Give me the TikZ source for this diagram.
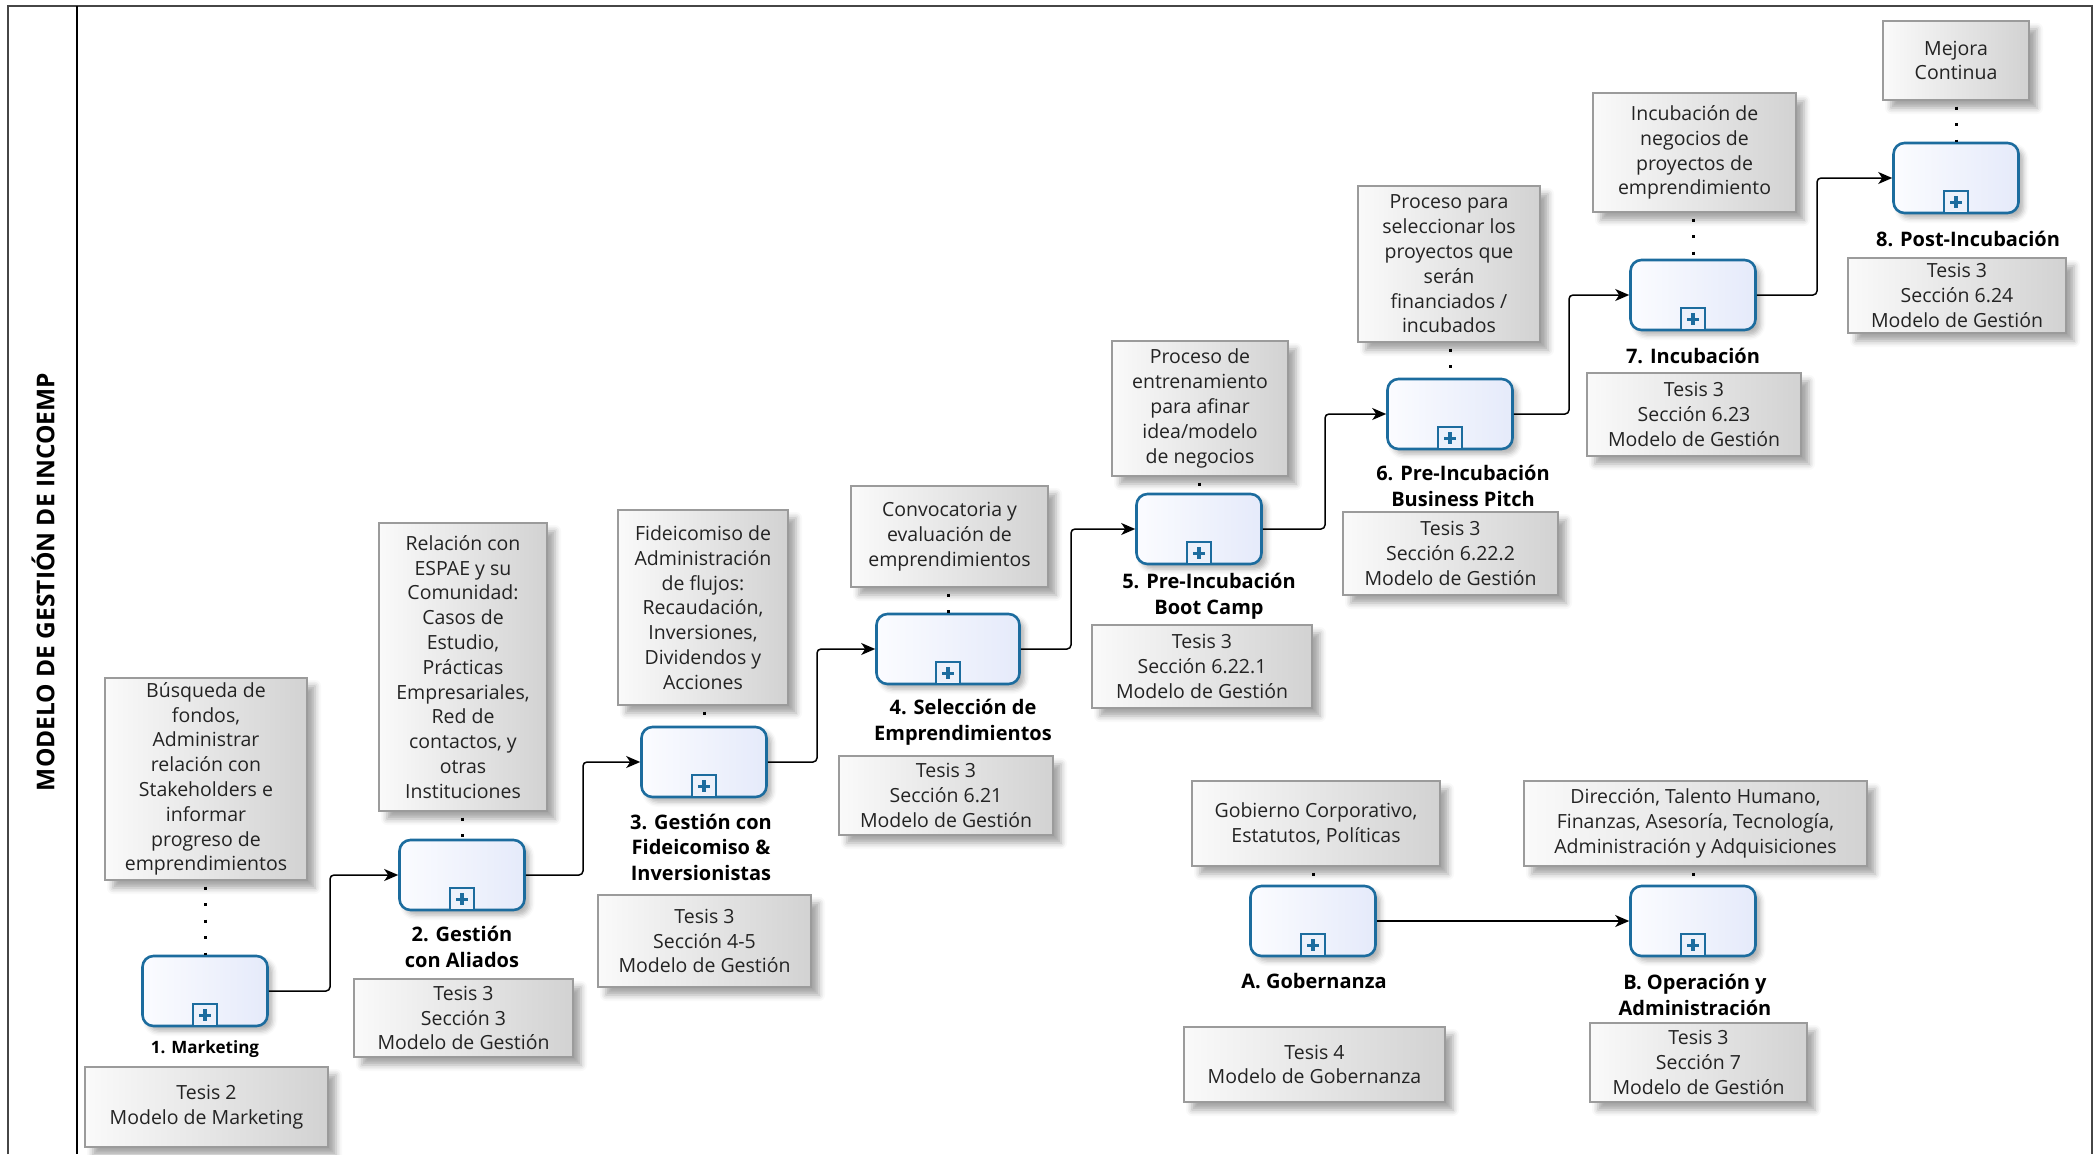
\documentclass[tikz,border=0pt]{standalone}
\usepackage{fontspec}
\setmainfont{Open Sans}
\usetikzlibrary{arrows.meta,shadows.blur}

\definecolor{taskblue}{RGB}{28,108,158}
\definecolor{taskfillA}{RGB}{251,252,255}
\definecolor{taskfillB}{RGB}{229,234,250}
\definecolor{markerfill}{RGB}{236,241,251}
\definecolor{notefillA}{RGB}{250,250,250}
\definecolor{notefillB}{RGB}{210,210,210}
\definecolor{noteline}{RGB}{155,155,155}
\definecolor{inktext}{RGB}{35,35,35}
\definecolor{poolline}{RGB}{70,70,70}

\newcommand\annfont{\fontsize{19.5}{24.8}\selectfont}
\newcommand\lblfont{\bfseries\fontsize{20}{25.5}\selectfont}
\newcommand\smalllblfont{\bfseries\fontsize{17}{22}\selectfont}

\begin{document}
\begin{tikzpicture}[x=1pt,y=-1pt,
  task/.style={rounded corners=11pt, draw=taskblue, line width=2.6pt,
    left color=taskfillA, right color=taskfillB,
    minimum width=125pt, minimum height=70pt, inner sep=0pt,
    blur shadow={shadow xshift=5pt, shadow yshift=-5pt, shadow blur radius=5pt, shadow opacity=30}},
  marker/.style={draw=taskblue, line width=2pt, fill=markerfill,
    minimum width=24pt, minimum height=22pt, inner sep=0pt, anchor=south,
    path picture={
      \fill[taskblue] ([xshift=-6pt,yshift=-1.7pt]path picture bounding box.center) rectangle ([xshift=6pt,yshift=1.7pt]path picture bounding box.center);
      \fill[taskblue] ([xshift=-1.7pt,yshift=-6pt]path picture bounding box.center) rectangle ([xshift=1.7pt,yshift=6pt]path picture bounding box.center);}},
  note/.style={draw=noteline, line width=1.2pt, left color=notefillA, right color=notefillB,
    inner sep=0pt, align=center, font=\annfont, text=inktext,
    blur shadow={shadow xshift=8pt, shadow yshift=-8pt, shadow blur radius=6pt, shadow opacity=35}},
  tasklabel/.style={align=center, font=\lblfont, text=black, inner sep=0pt},
  flow/.style={draw=black, line width=1.5pt, rounded corners=4pt,
    -{Stealth[length=14pt, width=12pt, inset=4pt]}},
  assoc/.style={draw=black, line width=3pt, dash pattern=on 3pt off 13.5pt, dash phase=10.5pt},
  lane/.style={draw=poolline, line width=1.8pt}
]
\useasboundingbox (0,0) rectangle (2098,1154);

% pool and lane header
\draw[lane] (8,1154) -- (8,6) -- (2092,6) -- (2092,1154);
\draw[lane, draw=black] (77,6) -- (77,1154);
\node[rotate=90, font=\bfseries\fontsize{24.5}{30}\selectfont, inner sep=0pt] (title) at (43,582) {MODELO DE GESTIÓN DE INCOEMP};

% sub-processes
\node[task] (t1) at (205,991) {};
\node[task] (t2) at (462,875) {};
\node[task] (t3) at (704,762) {};
\node[task, minimum width=143pt] (t4) at (948,649) {};
\node[task] (t5) at (1199,529) {};
\node[task] (t6) at (1450,414) {};
\node[task] (t7) at (1693,295) {};
\node[task] (t8) at (1956,178) {};
\node[task] (tA) at (1313,921) {};
\node[task] (tB) at (1693,921) {};

% collapsed sub-process markers
\node[marker] (m1) at (t1.south) {};
\node[marker] (m2) at (t2.south) {};
\node[marker] (m3) at (t3.south) {};
\node[marker] (m4) at (t4.south) {};
\node[marker] (m5) at (t5.south) {};
\node[marker] (m6) at (t6.south) {};
\node[marker] (m7) at (t7.south) {};
\node[marker] (m8) at (t8.south) {};
\node[marker] (mA) at (tA.south) {};
\node[marker] (mB) at (tB.south) {};

% task labels
\node[tasklabel, font=\smalllblfont] (l1) at (205,1049) {1. Marketing};
\node[tasklabel] (l2) at (462,947) {2. Gestión\\con Aliados};
\node[tasklabel] (l3) at (701,847) {3. Gestión con\\Fideicomiso \&\\Inversionistas};
\node[tasklabel] (l4) at (963,722) {4. Selección de\\Emprendimientos};
\node[tasklabel] (l5) at (1209,596) {5. Pre-Incubación\\Boot Camp};
\node[tasklabel] (l6) at (1463,486) {6. Pre-Incubación\\Business Pitch};
\node[tasklabel] (l7) at (1693,356) {7. Incubación};
\node[tasklabel] (l8) at (1968,239) {8. Post-Incubación};
\node[tasklabel] (lA) at (1314,981) {A. Gobernanza};
\node[tasklabel] (lB) at (1695,995) {B. Operación y\\Administración};

% text annotations above the tasks
\node[note, minimum width=202pt, minimum height=202pt] (n1) at (206,779)
  {Búsqueda de\\fondos,\\Administrar\\relación con\\Stakeholders e\\informar\\progreso de\\emprendimientos};
\node[note, minimum width=168pt, minimum height=288pt] (n2) at (463,667)
  {Relación con\\ESPAE y su\\Comunidad:\\Casos de\\Estudio,\\Prácticas\\Empresariales,\\Red de\\contactos, y\\otras\\Instituciones};
\node[note, minimum width=170pt, minimum height=195pt] (n3) at (703,607.5)
  {Fideicomiso de\\Administración\\de flujos:\\Recaudación,\\Inversiones,\\Dividendos y\\Acciones};
\node[note, minimum width=197pt, minimum height=101pt] (n4) at (949.5,536.5)
  {Convocatoria y\\evaluación de\\emprendimientos};
\node[note, minimum width=176pt, minimum height=135pt] (n5) at (1200,408.5)
  {Proceso de\\entrenamiento\\para afinar\\idea/modelo\\de negocios};
\node[note, minimum width=182pt, minimum height=156pt] (n6) at (1449,264)
  {Proceso para\\seleccionar los\\proyectos que\\serán\\financiados /\\incubados};
\node[note, minimum width=203pt, minimum height=119pt] (n7) at (1694.5,152.5)
  {Incubación de\\negocios de\\proyectos de\\emprendimiento};
\node[note, minimum width=146pt, minimum height=79pt] (n8) at (1956,60.5)
  {Mejora\\Continua};
\node[note, minimum width=248pt, minimum height=85pt] (nA) at (1316,823.5)
  {Gobierno Corporativo,\\Estatutos, Políticas};
\node[note, minimum width=343pt, minimum height=85pt] (nB) at (1695.5,823.5)
  {Dirección, Talento Humano,\\Finanzas, Asesoría, Tecnología,\\Administración y Adquisiciones};

% reference notes below the tasks
\node[note, minimum width=243pt, minimum height=80pt] (r1) at (206.5,1107) {Tesis 2\\Modelo de Marketing};
\node[note, minimum width=219pt, minimum height=78pt] (r2) at (463.5,1018) {Tesis 3\\Sección 3\\Modelo de Gestión};
\node[note, minimum width=213pt, minimum height=92pt] (r3) at (704.5,941) {Tesis 3\\Sección 4-5\\Modelo de Gestión};
\node[note, minimum width=214pt, minimum height=79pt] (r4) at (946,795.5) {Tesis 3\\Sección 6.21\\Modelo de Gestión};
\node[note, minimum width=220pt, minimum height=83pt] (r5) at (1202,666.5) {Tesis 3\\Sección 6.22.1\\Modelo de Gestión};
\node[note, minimum width=215pt, minimum height=83pt] (r6) at (1450.5,553.5) {Tesis 3\\Sección 6.22.2\\Modelo de Gestión};
\node[note, minimum width=214pt, minimum height=83pt] (r7) at (1694,414.5) {Tesis 3\\Sección 6.23\\Modelo de Gestión};
\node[note, minimum width=218pt, minimum height=75pt] (r8) at (1957,295.5) {Tesis 3\\Sección 6.24\\Modelo de Gestión};
\node[note, minimum width=261pt, minimum height=75pt] (rA) at (1314.5,1064.5) {Tesis 4\\Modelo de Gobernanza};
\node[note, minimum width=217pt, minimum height=79pt] (rB) at (1698.5,1062.5) {Tesis 3\\Sección 7\\Modelo de Gestión};

% associations
\foreach \k in {1,2,3,4,5,6,7,8,A,B}
  \draw[assoc] (n\k.south -| t\k.north) -- (t\k.north);

% sequence flow bends
\coordinate (k12) at (330,0);
\coordinate (k23) at (583,0);
\coordinate (k34) at (817,0);
\coordinate (k45) at (1071,0);
\coordinate (k56) at (1325,0);
\coordinate (k67) at (1569,0);
\coordinate (k78) at (1817,0);

\draw[flow] (t1.east) -| (k12 |- t2.west) -- (t2.west);
\draw[flow] (t2.east) -| (k23 |- t3.west) -- (t3.west);
\draw[flow] (t3.east) -| (k34 |- t4.west) -- (t4.west);
\draw[flow] (t4.east) -| (k45 |- t5.west) -- (t5.west);
\draw[flow] (t5.east) -| (k56 |- t6.west) -- (t6.west);
\draw[flow] (t6.east) -| (k67 |- t7.west) -- (t7.west);
\draw[flow] (t7.east) -| (k78 |- t8.west) -- (t8.west);
\draw[flow] (tA.east) -- (tB.west);
\end{tikzpicture}
\end{document}
